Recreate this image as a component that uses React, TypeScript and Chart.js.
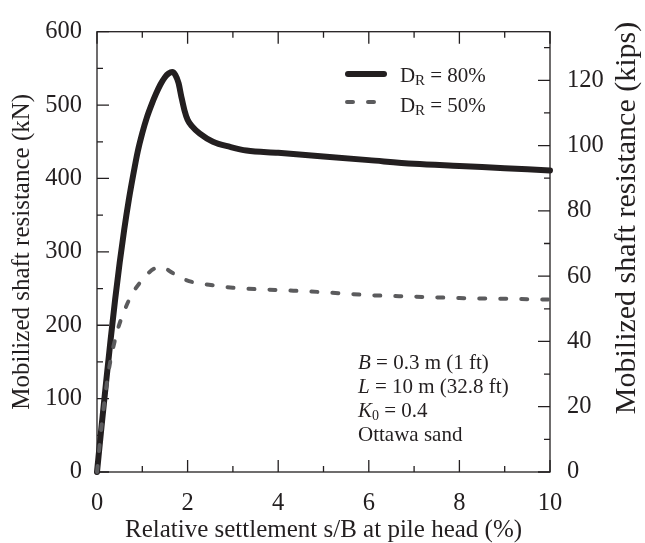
import { useEffect, useRef } from "react";
import { Chart, registerables } from "chart.js";

Chart.register(...registerables);

// ---- data ----
const SETTLEMENT_80 = [0, 0.1, 0.2, 0.3, 0.4, 0.5, 0.6, 0.7, 0.8, 0.9, 1.0, 1.1, 1.2, 1.3, 1.4, 1.5, 1.58, 1.66, 1.73, 1.8, 1.86, 1.93, 2.0, 2.1, 2.27, 2.56, 2.94, 3.3, 4.0, 5.0, 6.0, 7.0, 8.0, 9.0, 10.0];
const RESISTANCE_80 = [0, 62, 122, 180, 235, 285, 330, 370, 405, 437, 462, 483, 500, 515, 528, 538, 543, 545, 541, 530, 512, 493, 480, 471, 461, 450, 443, 438, 435, 430, 425, 420, 417, 414, 411];
const SETTLEMENT_50 = [0, 0.1, 0.25, 0.43, 0.58, 0.77, 1.0, 1.15, 1.3, 1.45, 1.6, 1.8, 2.1, 2.6, 3.0, 4.0, 5.0, 6.0, 7.0, 8.0, 9.0, 10.0];
const RESISTANCE_50 = [0, 62, 135, 188, 216, 242, 262, 272, 278, 279, 274, 266, 259, 254, 251, 248, 245, 241, 239, 237, 236, 235];

const X_TICKS = [0, 2, 4, 6, 8, 10];
const KN_TICKS = [0, 100, 200, 300, 400, 500, 600];
const KIPS_TICKS = [0, 20, 40, 60, 80, 100, 120];
const KN_PER_KIP = 4.448222;

const X_TITLE = "Relative settlement s/B at pile head (%)";
const Y_TITLE = "Mobilized shaft resistance (kN)";
const Y2_TITLE = "Mobilized shaft resistance (kips)";
const SERIES_LABELS = ["80%", "50%"];
const NOTE_LINES = [
  { sym: "B", sub: "", rest: " = 0.3 m (1 ft)" },
  { sym: "L", sub: "", rest: " = 10 m (32.8 ft)" },
  { sym: "K", sub: "0", rest: " = 0.4" },
  { sym: "", sub: "", rest: "Ottawa sand" },
];

const INK = "#231f20";
const GREY = "#5b5b5d";
const SERIF = "'Liberation Serif', 'Times New Roman', serif";

function minorValues(major: number[], step: number, max: number) {
  const out: number[] = [];
  for (let i = 0; i < major.length; i++) {
    const v = major[i] + step;
    if (v < max + 1e-9 && !major.includes(v)) out.push(v);
  }
  return out;
}

const framePlugin = {
  id: "framePlugin",
  beforeDatasetsDraw(chart: any) {
    const { ctx, chartArea: a, scales } = chart;
    const x = scales.x, y = scales.y, y2 = scales.y2;
    const MAJ = 12, MIN = 6;
    ctx.save();
    ctx.strokeStyle = INK;
    ctx.lineWidth = 1.3;
    ctx.strokeRect(a.left, a.top, a.right - a.left, a.bottom - a.top);
    ctx.beginPath();
    X_TICKS.forEach((v) => {
      const p = x.getPixelForValue(v);
      ctx.moveTo(p, a.bottom); ctx.lineTo(p, a.bottom - MAJ);
      ctx.moveTo(p, a.top); ctx.lineTo(p, a.top + MAJ);
    });
    minorValues(X_TICKS, 1, 10).forEach((v) => {
      const p = x.getPixelForValue(v);
      ctx.moveTo(p, a.bottom); ctx.lineTo(p, a.bottom - MIN);
      ctx.moveTo(p, a.top); ctx.lineTo(p, a.top + MIN);
    });
    KN_TICKS.forEach((v) => {
      const p = y.getPixelForValue(v);
      ctx.moveTo(a.left, p); ctx.lineTo(a.left + MAJ, p);
    });
    minorValues(KN_TICKS, 50, 600).forEach((v) => {
      const p = y.getPixelForValue(v);
      ctx.moveTo(a.left, p); ctx.lineTo(a.left + MIN, p);
    });
    KIPS_TICKS.forEach((v) => {
      const p = y2.getPixelForValue(v);
      ctx.moveTo(a.right, p); ctx.lineTo(a.right - MAJ, p);
    });
    minorValues([...KIPS_TICKS, 140], 10, 600 / KN_PER_KIP).forEach((v) => {
      const p = y2.getPixelForValue(v);
      ctx.moveTo(a.right, p); ctx.lineTo(a.right - MIN, p);
    });
    ctx.stroke();
    ctx.restore();
  },
  afterDraw(chart: any) {
    const { ctx } = chart;
    ctx.save();
    ctx.fillStyle = INK;
    // right axis title, reading bottom to top
    ctx.save();
    ctx.translate(627, 218);
    ctx.rotate(-Math.PI / 2);
    ctx.font = `30px ${SERIF}`;
    ctx.textAlign = "center";
    ctx.textBaseline = "middle";
    ctx.fillText(Y2_TITLE, 0, 0);
    ctx.restore();

    // legend
    ctx.textAlign = "left";
    ctx.textBaseline = "alphabetic";
    const rows = [
      { y: 74, base: 82, solid: true },
      { y: 102, base: 112, solid: false },
    ];
    rows.forEach((r, i) => {
      ctx.save();
      ctx.lineCap = "round";
      if (r.solid) {
        ctx.strokeStyle = INK;
        ctx.lineWidth = 6;
        ctx.beginPath();
        ctx.moveTo(348, r.y); ctx.lineTo(384, r.y);
        ctx.stroke();
      } else {
        ctx.strokeStyle = GREY;
        ctx.lineWidth = 4;
        ctx.setLineDash([6, 15]);
        ctx.beginPath();
        ctx.moveTo(347, r.y); ctx.lineTo(376, r.y);
        ctx.stroke();
      }
      ctx.restore();
      ctx.font = `21px ${SERIF}`;
      ctx.fillText("D", 400, r.base);
      ctx.font = `15px ${SERIF}`;
      ctx.fillText("R", 415, r.base + 3);
      ctx.font = `21px ${SERIF}`;
      ctx.fillText(" = " + SERIES_LABELS[i], 425, r.base);
    });

    // note block
    const bases = [369, 393, 417, 441];
    NOTE_LINES.forEach((ln, i) => {
      let xx = 358;
      const b = bases[i];
      if (ln.sym) {
        ctx.font = `italic 21px ${SERIF}`;
        ctx.fillText(ln.sym, xx, b);
        xx += ctx.measureText(ln.sym).width;
      }
      if (ln.sub) {
        ctx.font = `14px ${SERIF}`;
        ctx.fillText(ln.sub, xx, b + 3);
        xx += ctx.measureText(ln.sub).width;
      }
      ctx.font = `21px ${SERIF}`;
      ctx.fillText(ln.rest, xx, b);
    });
    ctx.restore();
  },
};

export default function App() {
  const ref = useRef<HTMLCanvasElement | null>(null);
  useEffect(() => {
    document.body.style.margin = "0";
    if (!ref.current) return;
    const tickFont = { family: SERIF, size: 24.5 };
    const chart = new Chart(ref.current, {
      type: "line",
      data: {
        datasets: [
          {
            label: "DR = 80%",
            data: SETTLEMENT_80.map((s, i) => ({ x: s, y: RESISTANCE_80[i] })),
            borderColor: INK,
            borderWidth: 6,
            pointRadius: 0,
            cubicInterpolationMode: "monotone",
            borderCapStyle: "round",
            borderJoinStyle: "round",
            fill: false,
            clip: 6,
            order: 1,
          },
          {
            label: "DR = 50%",
            data: SETTLEMENT_50.map((s, i) => ({ x: s, y: RESISTANCE_50[i] })),
            borderColor: GREY,
            borderWidth: 4,
            borderDash: [6, 15],
            borderCapStyle: "round",
            pointRadius: 0,
            cubicInterpolationMode: "monotone",
            fill: false,
            clip: 6,
            order: 0,
          },
        ],
      },
      options: {
        animation: false,
        responsive: false,
        devicePixelRatio: 1,
        layout: { padding: { top: 20, left: 0, right: 0, bottom: 0 } },
        plugins: { legend: { display: false }, tooltip: { enabled: false } },
        scales: {
          x: {
            type: "linear",
            position: "bottom",
            min: 0,
            max: 10,
            grid: { display: false, drawTicks: false },
            border: { display: false },
            afterBuildTicks: (s: any) => { s.ticks = X_TICKS.map((v) => ({ value: v })); },
            afterFit: (s: any) => { s.height = 71; },
            ticks: { color: INK, font: tickFont, padding: 17, maxRotation: 0 },
            title: {
              display: true,
              text: X_TITLE,
              color: INK,
              font: { family: SERIF, size: 25, lineHeight: 1 },
              padding: { top: 1, bottom: 0 },
            },
          },
          y: {
            type: "linear",
            position: "left",
            min: 0,
            max: 600,
            grid: { display: false, drawTicks: false },
            border: { display: false },
            afterBuildTicks: (s: any) => { s.ticks = KN_TICKS.map((v) => ({ value: v })); },
            afterFit: (s: any) => { s.width = 97; },
            ticks: { color: INK, font: tickFont, padding: 15 },
            title: {
              display: true,
              text: Y_TITLE,
              color: INK,
              font: { family: SERIF, size: 25, lineHeight: 1 },
              padding: { top: 10, bottom: 0 },
            },
          },
          y2: {
            type: "linear",
            position: "right",
            min: 0,
            max: 600 / KN_PER_KIP,
            grid: { display: false, drawTicks: false },
            border: { display: false },
            afterBuildTicks: (s: any) => { s.ticks = KIPS_TICKS.map((v) => ({ value: v })); },
            afterFit: (s: any) => { s.width = 95; },
            ticks: { color: INK, font: tickFont, padding: 17 },
          },
        },
      },
      plugins: [framePlugin],
    } as any);
    return () => chart.destroy();
  }, []);
  return (
    <div style={{ position: "absolute", left: 0, top: 0, width: 645, height: 543, background: "#fff" }}>
      <canvas ref={ref} width={645} height={543} style={{ display: "block", width: 645, height: 543 }} />
    </div>
  );
}
